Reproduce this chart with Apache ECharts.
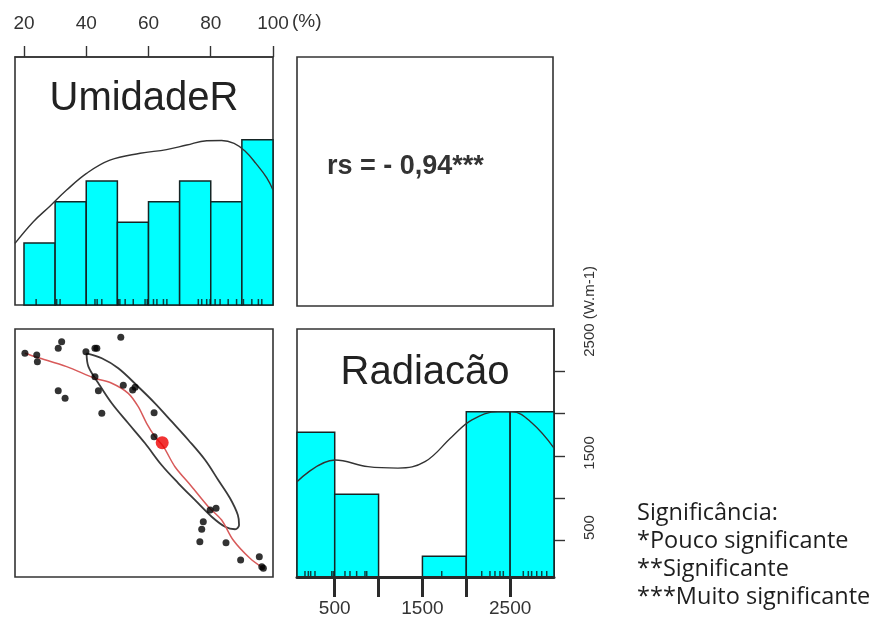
<!DOCTYPE html>
<html>
<head>
<meta charset="utf-8">
<script src="https://cdn.jsdelivr.net/npm/echarts@6/dist/echarts.min.js"></script>
<style>
html, body { margin: 0; padding: 0; background: #fff; }
#main { width: 892px; height: 626px; }
</style>
</head>
<body>
<div id="main"></div>
<script>
// histogram bins
var umidBreaks = [20, 30, 40, 50, 60, 70, 80, 90, 100];
var umidCounts = [3, 5, 6, 4, 5, 6, 5, 8];
var radBreaks = [0, 500, 1000, 1500, 2000, 2500, 3000];
var radCounts = [7, 4, 0, 1, 8, 8];

// density curves, in histogram count units
var umidDensity = [[17.1, 2.98], [23.0, 4.03], [28.4, 4.79], [33.7, 5.56], [40.1, 6.37], [47.6, 7.01],
    [57.3, 7.34], [65.8, 7.52], [72.3, 7.74], [78.7, 7.95], [83.5, 7.96], [87.5, 7.82], [91.0, 7.45],
    [94.5, 6.85], [98.0, 6.15], [100, 5.56]];
var radDensity = [[70, 4.61], [503, 5.66], [879, 5.34], [1221, 5.27], [1529, 5.58], [1837, 6.79],
    [2065, 7.60], [2361, 8.00], [2521, 8.00], [2749, 7.45], [3000, 6.24]];

// rug marks
var umidRug = [23.9, 30.5, 31.6, 42.8, 43.5, 45.0, 50.3, 50.8, 52.5, 55.1, 58.9, 59.6, 61.6, 62.7,
    64.8, 65.9, 76.0, 77.1, 78.7, 79.8, 81.4, 83.0, 85.6, 88.3, 90.5, 93.2, 95.3, 96.4];
var radRug = [161, 199, 226, 275, 466, 484, 617, 674, 750, 845, 865, 1720, 2176, 2270, 2327, 2384,
    2422, 2650, 2707, 2745, 2803, 2860, 2917];

// scatter: UmidadeR vs Radiacao
var pointsUmid = [20.3, 24.1, 24.3, 31.0, 32.1, 39.9, 43.4, 51.1, 31.0, 33.2, 42.8, 43.9, 45.0, 51.9,
    54.9, 61.8, 61.8, 79.8, 81.7, 77.6, 77.1, 76.5, 84.9, 89.6, 95.6, 96.4, 96.9, 55.7, 42.8];
var pointsRad = [2713, 2693, 2614, 2772, 2850, 2732, 2772, 2902, 2271, 2181, 2437, 2271, 2004, 2335,
    2279, 2011, 1728, 862, 882, 723, 634, 487, 475, 271, 310, 192, 173, 2311, 2772];
var meanPoint = [64.4, 1657];

// loess line and correlation ellipse
var loessLine = [[20.3, 2713], [24.1, 2666], [33.7, 2555], [42.8, 2418], [48.2, 2359], [53.5, 2240],
    [56.7, 2082], [59.4, 1886], [62.1, 1728], [64.8, 1610], [68.5, 1373], [73.9, 1137], [79.2, 901],
    [83.5, 743], [87.2, 507], [92.6, 291], [96.9, 173]];
var ellipse = [[40.1, 2713], [45.0, 2654], [50.3, 2536], [56.7, 2318], [62.1, 2122], [67.5, 1905],
    [72.8, 1689], [78.2, 1452], [82.4, 1216], [86.2, 1000], [88.7, 803], [89.1, 685], [87.8, 634],
    [84.6, 664], [80.3, 782], [74.9, 980], [69.6, 1177], [64.2, 1393], [58.9, 1650], [53.5, 1886],
    [48.2, 2122], [43.9, 2359], [40.7, 2555], [40.1, 2713]];

// axis ticks
var umidTicks = [20, 40, 60, 80, 100];
var radTicks = [500, 1000, 1500, 2000, 2500];
var radLabels = [500, 1500, 2500];

var FONT = 'Liberation Sans';
var BORDER = '#333';

function bins(breaks, counts) {
    return counts.map(function(c, i) { return [breaks[i], breaks[i + 1], c]; });
}

function histItem(params, api) {
    var p0 = api.coord([api.value(0), 0]);
    var p1 = api.coord([api.value(1), api.value(2)]);
    var cs = params.coordSys;
    var x0 = Math.max(p0[0], cs.x);
    var x1 = Math.min(p1[0], cs.x + cs.width);
    return {
        type: 'rect',
        shape: { x: x0, y: p1[1], width: x1 - x0, height: p0[1] - p1[1] },
        style: { fill: '#00ffff', stroke: '#152525', lineWidth: 1.5 }
    };
}

function rug(values) {
    return values.map(function(v) { return [v, 0]; });
}

var myChart = echarts.init(document.getElementById('main'));

var gridBase = { show: true, borderColor: BORDER, borderWidth: 1.6, backgroundColor: 'transparent' };
function axisLine() { return { show: true, onZero: false, lineStyle: { color: BORDER, width: 1.6 } }; }
function ticks(values) {
    return { show: true, inside: false, length: 11, customValues: values, lineStyle: { color: BORDER, width: 1.4 } };
}

var option = {
    animation: false,
    backgroundColor: '#fff',
    textStyle: { fontFamily: FONT },
    grid: [
        Object.assign({ left: 15, top: 57, width: 258, height: 248 }, gridBase),
        Object.assign({ left: 297, top: 57, width: 256, height: 249 }, gridBase),
        Object.assign({ left: 15, top: 329, width: 258, height: 248 }, gridBase),
        Object.assign({ left: 297, top: 329, width: 257, height: 248 }, gridBase),
        // same rect as grid 3, carries the Radiacao scales (bottom and right)
        { left: 297, top: 329, width: 257, height: 248, show: false }
    ],
    xAxis: [
        {
            gridIndex: 0, type: 'value', min: 17.11, max: 100, position: 'top',
            axisLine: axisLine(), splitLine: { show: false }, axisTick: ticks(umidTicks),
            axisLabel: { customValues: umidTicks, fontSize: 19, color: '#333', margin: 24, fontFamily: FONT }
        },
        { gridIndex: 1, type: 'value', min: 0, max: 1, show: false },
        { gridIndex: 2, type: 'value', min: 17.11, max: 100, show: false },
        { gridIndex: 3, type: 'value', min: 70, max: 3000, show: false },
        {
            gridIndex: 4, type: 'value', min: 70, max: 3000, position: 'bottom', z: 10,
            axisLine: { show: true, onZero: false, lineStyle: { color: '#2a2a2a', width: 3 } },
            splitLine: { show: false },
            axisTick: { show: true, inside: false, length: 20, customValues: radTicks, lineStyle: { color: '#2a2a2a', width: 3 } },
            axisLabel: {
                customValues: radLabels, fontSize: 19, color: '#333', margin: 22, fontFamily: FONT,
                formatter: function(v) { return String(v); }
            }
        }
    ],
    yAxis: [
        { gridIndex: 0, type: 'value', min: 0, max: 12, show: false },
        { gridIndex: 1, type: 'value', min: 0, max: 1, show: false },
        { gridIndex: 2, type: 'value', min: 70, max: 3000, show: false },
        { gridIndex: 3, type: 'value', min: 0, max: 12, show: false },
        {
            gridIndex: 4, type: 'value', min: 70, max: 3000, position: 'right',
            axisLine: axisLine(), splitLine: { show: false }, axisTick: ticks(radTicks),
            axisLabel: {
                customValues: radLabels, rotate: 90, fontSize: 15, color: '#333', margin: 28, fontFamily: FONT,
                formatter: function(v) {
                    if (v === 2500) return '{c|2500 (W.m-1)}';
                    if (v === 1500) return '{b|1500}';
                    return '{a|500}';
                },
                rich: {
                    a: { fontSize: 15, padding: [0, 0, 0, 26] },
                    b: { fontSize: 15, padding: [0, 0, 0, 6] },
                    c: { fontSize: 15, padding: [0, 0, 0, 120] }
                }
            }
        }
    ],
    series: [
        // UmidadeR histogram
        { type: 'custom', xAxisIndex: 0, yAxisIndex: 0, renderItem: histItem, data: bins(umidBreaks, umidCounts), z: 2 },
        { type: 'line', xAxisIndex: 0, yAxisIndex: 0, data: umidDensity, smooth: 0.4, showSymbol: false,
          lineStyle: { color: '#333', width: 1.4 }, z: 3 },
        { type: 'scatter', xAxisIndex: 0, yAxisIndex: 0, data: rug(umidRug), symbol: 'rect',
          symbolSize: [1.5, 6], symbolOffset: [0, -3], itemStyle: { color: '#111' }, z: 4 },

        // scatter panel
        { type: 'line', xAxisIndex: 2, yAxisIndex: 2, data: ellipse, smooth: 0.35, showSymbol: false,
          lineStyle: { color: '#3a3a3a', width: 1.8 }, z: 2 },
        { type: 'line', xAxisIndex: 2, yAxisIndex: 2, data: loessLine, smooth: 0.3, showSymbol: false,
          lineStyle: { color: '#d85a5a', width: 1.5 }, z: 3 },
        { type: 'scatter', xAxisIndex: 2, yAxisIndex: 2, symbolSize: 7,
          data: pointsUmid.map(function(u, i) { return [u, pointsRad[i]]; }),
          itemStyle: { color: '#000' }, z: 4 },
        { type: 'scatter', xAxisIndex: 2, yAxisIndex: 2, symbolSize: 13, data: [meanPoint],
          itemStyle: { color: '#ee0000' }, z: 5 },

        // Radiacao histogram
        { type: 'custom', xAxisIndex: 3, yAxisIndex: 3, renderItem: histItem, data: bins(radBreaks, radCounts), z: 2 },
        { type: 'line', xAxisIndex: 3, yAxisIndex: 3, data: radDensity, smooth: 0.4, showSymbol: false,
          lineStyle: { color: '#333', width: 1.4 }, z: 3 },
        { type: 'scatter', xAxisIndex: 3, yAxisIndex: 3, data: rug(radRug), symbol: 'rect',
          symbolSize: [1.5, 6], symbolOffset: [0, -3], itemStyle: { color: '#111' }, z: 4 }
    ],
    graphic: [
        { type: 'text', x: 144, y: 99, style: { text: 'UmidadeR', fontSize: 40, fontFamily: FONT, fill: '#222', align: 'center', verticalAlign: 'middle' } },
        { type: 'text', x: 425, y: 373, style: { text: 'Radiacão', fontSize: 40, fontFamily: FONT, fill: '#222', align: 'center', verticalAlign: 'middle' } },
        { type: 'text', x: 327, y: 167, style: { text: 'rs = - 0,94***', fontSize: 27, fontWeight: 'bold', fontFamily: FONT, fill: '#333', align: 'left', verticalAlign: 'middle' } },
        { type: 'text', x: 292, y: 22, style: { text: '(%)', fontSize: 19, fontFamily: FONT, fill: '#333', align: 'left', verticalAlign: 'middle' } },
        { type: 'text', x: 637, y: 499, style: {
            text: 'Significância:\n*Pouco significante\n**Significante\n***Muito significante',
            fontSize: 23.5, lineHeight: 28, fontFamily: 'Open Sans', fill: '#1e1e1e', align: 'left', verticalAlign: 'top' } }
    ]
};

myChart.setOption(option);
</script>
</body>
</html>
